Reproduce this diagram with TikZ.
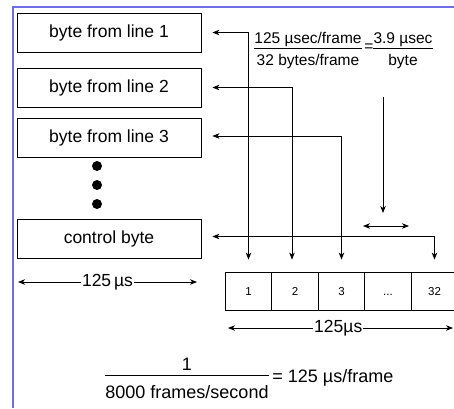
\documentclass[tikz,border=0pt]{standalone}
\usepackage{fontspec}
\setmainfont{Liberation Sans}
\usetikzlibrary{arrows.meta}
\definecolor{slideblue}{RGB}{110,110,230}

\begin{document}
\begin{tikzpicture}[
    x=1pt, y=-1pt,
    >={Stealth[length=7pt,width=5.5pt,inset=2pt]},
    line width=0.8pt,
    bytebox/.style={draw, minimum width=184pt, minimum height=39pt, inner sep=0pt, font=\fontsize{17.5}{20}\selectfont},
    cell/.style={draw, minimum width=46.5pt, minimum height=38pt, inner sep=0pt, text height=8.5pt, text depth=0pt, font=\fontsize{11.5}{13}\selectfont},
    ftxt/.style={inner sep=0pt, anchor=base, font=\fontsize{15.5}{18}\selectfont},
    btxt/.style={inner sep=0pt, anchor=base, font=\fontsize{18}{21}\selectfont},
    dimlabel/.style={fill=white, inner sep=1pt, font=\fontsize{17.5}{20}\selectfont}
  ]
\useasboundingbox (0,0) rectangle (454,408);
\clip (0,0) rectangle (454,408);
% slide frame
\draw[slideblue, line width=1.2pt] (12,7) -- (454,7);
\draw[slideblue, line width=2pt] (12.5,6.4) -- (12.5,408);
% bytes of the lines
\node[bytebox] (b1) at (109,32.5) {byte from line 1};
\node[bytebox] (b2) at (109,87.5) {byte from line 2};
\node[bytebox] (b3) at (109,138) {byte from line 3};
\node[bytebox] (bc) at (109,238.5) {control byte};
\foreach \y in {166,185,204}
  \fill (97,\y) circle (5pt);
% the frame
\foreach \i/\t in {1/1,2/2,3/3,4/{...},5/32}
  \node[cell] (f\i) at (202+46.5*\i,291) {\t};
% byte to slot
\draw[<->, shorten <=11pt, shorten >=12pt] (b1) -| (f1);
\draw[<->, shorten <=11pt, shorten >=12pt] (b2) -| ([xshift=-3pt]f2.north);
\draw[<->, shorten <=11pt, shorten >=12pt] ([yshift=2pt]b3.east) -| (f3);
\draw[<->, shorten <=11pt, shorten >=12pt] ([yshift=2pt]bc.east) -| (f5);
% time per byte
\node[ftxt] (n1) at (308,43.5) {125 µsec/frame};
\node[ftxt] (d1) at (308,65) {32 bytes/frame};
\draw[line width=0.7pt] ([yshift=-5pt]n1.base west) -- ([yshift=-5pt]n1.base east);
\node[inner sep=0pt, font=\fontsize{15.5}{18}\selectfont] (eq1) at (369,48) {=};
\node[ftxt] (n2) at (403,43.5) {3.9 µsec};
\node[ftxt] (d2) at (403,65) {byte};
\draw[line width=0.7pt] ([yshift=-5pt]n2.base west) -- ([yshift=-5pt]n2.base east);
\coordinate (qtop) at (383,97);
\coordinate (qbot) at (383,213);
\draw[->] (qtop) -- (qbot);
\coordinate (sl) at (363,226);
\coordinate (sr) at (409,226);
\draw[<->] (sl) -- (sr);
% frame lengths
\coordinate (la) at (18,282);
\coordinate (lb) at (197,282);
\draw[<->] (la) -- node[dimlabel] (lt) {125\,µs} (lb);
\coordinate (ra) at (228,328);
\coordinate (rb) at (453,328);
\draw[<->] (ra) -- node[dimlabel, pos=0.49] (rt) {125µs} (rb);
% frame rate
\node[btxt] (bn) at (187,370) {1};
\node[btxt] (bd) at (187,398) {8000 frames/second};
\draw[line width=0.7pt] ([yshift=-5pt]bn.base -| bd.west) -- ([yshift=-5pt]bn.base -| bd.east);
\node[btxt, anchor=base west] (be) at (272,382) {= 125 µs/frame};
\end{tikzpicture}
\end{document}
